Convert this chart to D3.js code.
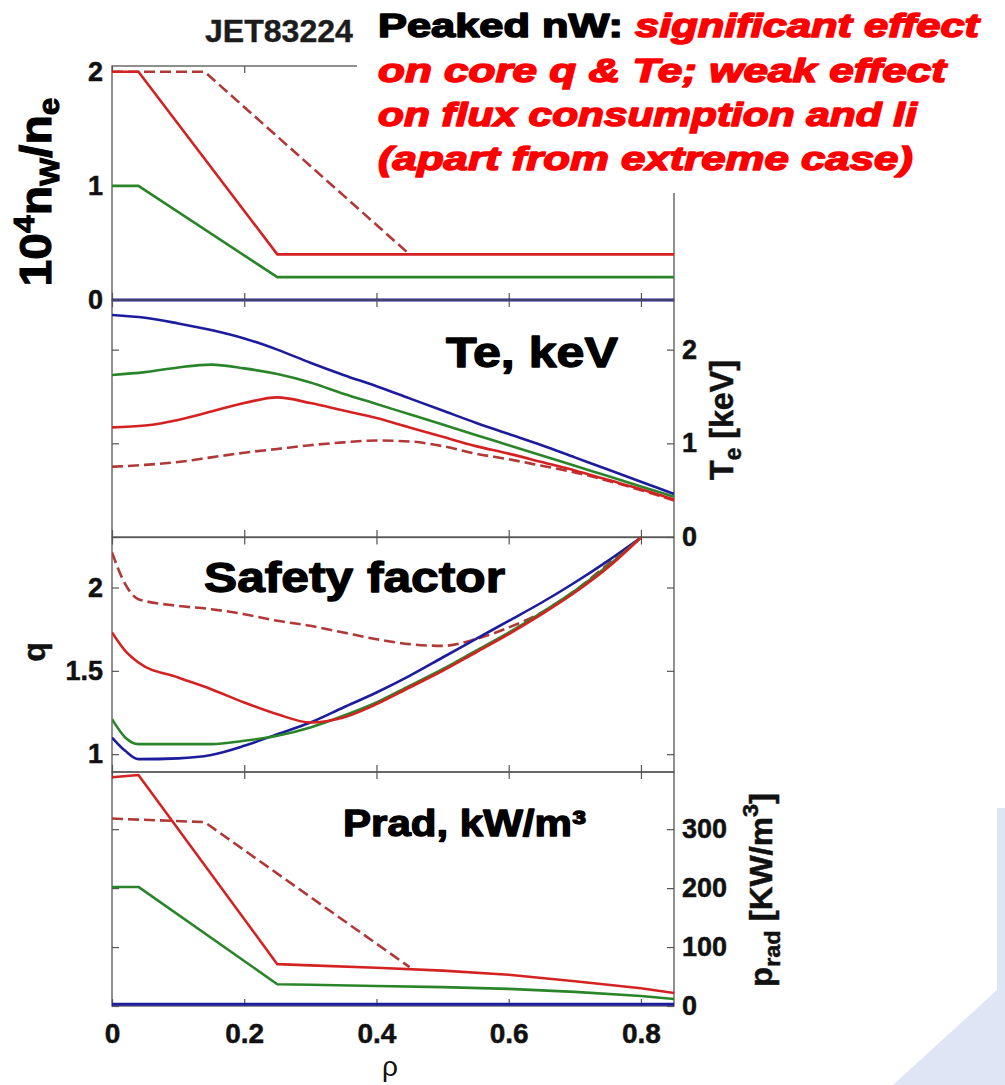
<!DOCTYPE html>
<html><head><meta charset="utf-8">
<script src="https://cdn.jsdelivr.net/npm/d3@7"></script>
<style>
body{margin:0;background:#fff}
svg{display:block}
text{font-family:"Liberation Sans",Arial,Helvetica,sans-serif}
</style></head>
<body><svg id="c" width="1005" height="1085"></svg>
<script>
// ---------------- DATA ----------------
const xTicks = [0, 0.2, 0.4, 0.6, 0.8];
const xTickLabels = ["0", "0.2", "0.4", "0.6", "0.8"];

// Panel 1: 10^4 nW/ne
const nwTicks = [0, 1, 2];
const nwTickLabels = ["0", "1", "2"];
const nwRho = [0, 0.04, 0.25, 0.85];
const nwBlue = [0, 0, 0, 0];
const nwGreen = [1, 1, 0.2, 0.2];
const nwRed = [2, 2, 0.4, 0.4];
const nwRedDashRho = [0, 0.14, 0.45];
const nwRedDash = [2, 2, 0.4];

// Panel 2: Te [keV]
const teTicks = [0, 1, 2];
const teTickLabels = ["0", "1", "2"];
const teRho = [0, 0.05, 0.1, 0.15, 0.2, 0.25, 0.3, 0.35, 0.4, 0.45, 0.5, 0.55, 0.6, 0.65, 0.7, 0.75, 0.8, 0.85];
const teBlue = [2.37, 2.34, 2.28, 2.21, 2.12, 2.00, 1.86, 1.73, 1.61, 1.48, 1.35, 1.22, 1.10, 0.98, 0.85, 0.72, 0.59, 0.46];
const teGreen = [1.73, 1.76, 1.81, 1.84, 1.80, 1.74, 1.65, 1.53, 1.42, 1.31, 1.20, 1.09, 0.98, 0.87, 0.76, 0.65, 0.54, 0.43];
const teRed = [1.17, 1.19, 1.25, 1.34, 1.43, 1.49, 1.43, 1.35, 1.27, 1.17, 1.07, 0.97, 0.89, 0.80, 0.71, 0.61, 0.51, 0.40];
const teRedDash = [0.75, 0.77, 0.80, 0.85, 0.90, 0.94, 0.98, 1.01, 1.03, 1.02, 0.97, 0.89, 0.83, 0.76, 0.69, 0.60, 0.50, 0.39];

// Panel 3: safety factor q
const qTicks = [1, 1.5, 2];
const qTickLabels = ["1", "1.5", "2"];
const qRho = [0, 0.02, 0.04, 0.1, 0.15, 0.2, 0.25, 0.3, 0.35, 0.4, 0.45, 0.5, 0.55, 0.6, 0.65, 0.7, 0.75, 0.8];
const qBlue = [1.10, 1.02, 0.97, 0.975, 0.995, 1.05, 1.12, 1.19, 1.28, 1.37, 1.47, 1.58, 1.69, 1.80, 1.91, 2.03, 2.16, 2.30];
const qGreen = [1.21, 1.10, 1.06, 1.06, 1.06, 1.08, 1.11, 1.16, 1.23, 1.31, 1.41, 1.51, 1.62, 1.73, 1.85, 1.98, 2.13, 2.30];
const qRed = [1.73, 1.62, 1.55, 1.46, 1.39, 1.31, 1.24, 1.19, 1.22, 1.30, 1.40, 1.50, 1.61, 1.72, 1.84, 1.97, 2.12, 2.30];
const qRedDash = [2.21, 2.02, 1.93, 1.89, 1.87, 1.84, 1.80, 1.77, 1.73, 1.69, 1.66, 1.65, 1.69, 1.76, 1.85, 1.98, 2.14, 2.30];

// Panel 4: Prad [kW/m3]
const pradTicks = [0, 100, 200, 300];
const pradTickLabels = ["0", "100", "200", "300"];
const pradRho = [0, 0.04, 0.25, 0.3, 0.4, 0.5, 0.6, 0.7, 0.8, 0.85];
const pradBlue = [3, 3, 3, 3, 3, 3, 3, 3, 3, 3];
const pradGreen = [202, 202, 37, 36, 34, 32, 29, 24, 17, 12];
const pradRed = [388, 392, 71, 69, 65, 60, 53, 42, 30, 22];
const pradRedDashRho = [0, 0.14, 0.45];
const pradRedDash = [318, 312, 66];

// Text
const titleLines = [
  [["Peaked nW: ", "n"], ["significant effect", "r"]],
  [["on core q & Te; weak effect", "r"]],
  [["on flux consumption and li", "r"]],
  [["(apart from extreme case)", "r"]]
];

// ---------------- DRAW ----------------
const svg = d3.select("#c");
const FONT = '"Liberation Sans",Arial,Helvetica,sans-serif';
const C = {blue: "#1c1c9c", green: "#2a852a", red: "#d42222", dash: "#b23838", frame: "#555"};

// slide background decoration (bottom right)
svg.append("polygon")
  .attr("points", "997,808 1005,808 1005,1085 893,1085 997,990")
  .attr("fill", "#dfe5f4");

const x = d3.scaleLinear().domain([0, 0.85]).range([112, 674]);

const panels = [
  {id: "nw", dom: [0, 2.05], top: 66, bottom: 300, ticks: nwTicks, labels: nwTickLabels, side: "left",
    series: [
      {rho: nwRedDashRho, v: nwRedDash, c: C.dash, dash: true},
      {rho: nwRho, v: nwGreen, c: C.green},
      {rho: nwRho, v: nwRed, c: C.red},
      {rho: nwRho, v: nwBlue, c: C.blue, w: 3.2}
    ]},
  {id: "te", dom: [0, 2.53], top: 300, bottom: 537, ticks: teTicks, labels: teTickLabels, side: "right", smooth: true,
    series: [
      {rho: teRho, v: teRedDash, c: C.dash, dash: true},
      {rho: teRho, v: teBlue, c: C.blue},
      {rho: teRho, v: teGreen, c: C.green},
      {rho: teRho, v: teRed, c: C.red}
    ]},
  {id: "q", dom: [0.893, 2.3], top: 537.5, bottom: 772, ticks: qTicks, labels: qTickLabels, side: "left", smooth: true,
    series: [
      {rho: qRho, v: qRedDash, c: C.dash, dash: true},
      {rho: qRho, v: qBlue, c: C.blue},
      {rho: qRho, v: qGreen, c: C.green},
      {rho: qRho, v: qRed, c: C.red}
    ]},
  {id: "prad", dom: [0, 397], top: 772, bottom: 1006, ticks: pradTicks, labels: pradTickLabels, side: "right", xlabels: true,
    series: [
      {rho: pradRedDashRho, v: pradRedDash, c: C.dash, dash: true},
      {rho: pradRho, v: pradGreen, c: C.green},
      {rho: pradRho, v: pradRed, c: C.red},
      {rho: pradRho, v: pradBlue, c: C.blue, w: 3.2}
    ]}
];

const defs = svg.append("defs");

function styleAxis(g, size) {
  g.select(".domain").remove();
  g.selectAll(".tick line").attr("stroke", C.frame).attr("stroke-width", 1.2);
  g.selectAll(".tick text").attr("font-family", FONT).attr("font-weight", "bold")
    .attr("font-size", size).attr("fill", "#111").attr("stroke", "#111").attr("stroke-width", 0.5);
}

panels.forEach(p => {
  const y = d3.scaleLinear().domain(p.dom).range([p.bottom, p.top]);
  p.y = y;
  // frame
  svg.append("rect").attr("x", x.range()[0]).attr("y", p.top)
    .attr("width", x.range()[1] - x.range()[0]).attr("height", p.bottom - p.top)
    .attr("fill", "none").attr("stroke", C.frame).attr("stroke-width", 1.3);

  // axes (inward ticks)
  const gb = svg.append("g").attr("transform", `translate(0,${p.bottom})`)
    .call(d3.axisBottom(x).tickValues(xTicks).tickSize(-7).tickSizeOuter(0).tickPadding(17)
      .tickFormat(p.xlabels ? (d, i) => xTickLabels[i] : ""));
  styleAxis(gb, 28);
  const gt = svg.append("g").attr("transform", `translate(0,${p.top})`)
    .call(d3.axisTop(x).tickValues(xTicks).tickSize(-7).tickSizeOuter(0).tickFormat(""));
  styleAxis(gt, 28);
  const gl = svg.append("g").attr("transform", `translate(${x.range()[0]},0)`)
    .call(d3.axisLeft(y).tickValues(p.ticks).tickSize(-7).tickSizeOuter(0).tickPadding(9)
      .tickFormat(p.side === "left" ? (d, i) => p.labels[i] : ""));
  styleAxis(gl, 27);
  const gr = svg.append("g").attr("transform", `translate(${x.range()[1]},0)`)
    .call(d3.axisRight(y).tickValues(p.ticks).tickSize(-7).tickSizeOuter(0).tickPadding(8)
      .tickFormat(p.side === "right" ? (d, i) => p.labels[i] : ""));
  styleAxis(gr, 27);

  // clip
  defs.append("clipPath").attr("id", "clip-" + p.id).append("rect")
    .attr("x", x.range()[0]).attr("y", p.top - 1)
    .attr("width", x.range()[1] - x.range()[0] + 1).attr("height", p.bottom - p.top + 4);

  const line = d3.line().x(d => x(d[0])).y(d => y(d[1]))
    .curve(p.smooth ? d3.curveMonotoneX : d3.curveLinear);
  const g = svg.append("g").attr("clip-path", `url(#clip-${p.id})`);
  p.series.forEach(s => {
    g.append("path").datum(s.rho.map((r, i) => [r, s.v[i]]))
      .attr("d", line).attr("fill", "none").attr("stroke", s.c)
      .attr("stroke-width", s.w || 2.6)
      .attr("stroke-dasharray", s.dash ? "11,5" : null)
      .attr("stroke-linejoin", "round");
  });
});

// white box behind the headline text
svg.append("rect").attr("x", 357).attr("y", 0).attr("width", 648).attr("height", 193).attr("fill", "#fff");

// fit helper: scale text horizontally to target width
function fitH(t, tx, ty, target, rot) {
  const w = t.node().getComputedTextLength();
  const s = target / w;
  t.attr("transform", `translate(${tx},${ty})` + (rot ? ` rotate(${rot})` : "") + ` scale(${s},1)`);
}

// headline
const tBase = [37, 82, 126, 170];
const tWidth = [601, 568, 539, 535];
titleLines.forEach((ln, i) => {
  const t = svg.append("text").attr("x", 0).attr("y", 0)
    .attr("font-family", FONT).attr("font-weight", "bold").attr("font-size", 34);
  ln.forEach(([s, k]) => {
    t.append("tspan").text(s)
      .attr("fill", k === "r" ? "#ff0000" : "#000")
      .attr("stroke", k === "r" ? "#ff0000" : "#000").attr("stroke-width", 1.6)
      .attr("stroke-linejoin", "round")
      .attr("font-style", k === "r" ? "italic" : "normal");
  });
  fitH(t, 378, tBase[i], tWidth[i]);
});

// JET label
const jet = svg.append("text").text("JET83224").attr("font-family", FONT).attr("font-weight", "bold")
  .attr("font-size", 31).attr("fill", "#1c1c1c").attr("stroke", "#1c1c1c").attr("stroke-width", 0.4);
fitH(jet, 205, 42, 148);

// panel annotations
[["Te, keV", 446, 367, 172, 42], ["Safety factor", 204, 592, 301, 42], ["Prad, kW/m\u00b3", 343, 836, 243, 36]]
  .forEach(([s, tx, ty, w, fs]) => {
    const t = svg.append("text").text(s).attr("font-family", FONT).attr("font-weight", "bold")
      .attr("font-size", fs).attr("fill", "#000").attr("stroke", "#000").attr("stroke-width", 1.3)
      .attr("stroke-linejoin", "round");
    fitH(t, tx, ty, w);
  });

// left label 10^4 nW/ne
{
  const t = svg.append("text").attr("font-family", FONT).attr("font-weight", "bold")
    .attr("font-size", 44).attr("fill", "#000").attr("stroke", "#000").attr("stroke-width", 1)
    .attr("text-anchor", "middle");
  t.append("tspan").text("10");
  t.append("tspan").text("4").attr("font-size", 29).attr("dy", -17);
  t.append("tspan").text("n").attr("dy", 17);
  t.append("tspan").text("W").attr("font-size", 27).attr("dy", 8);
  t.append("tspan").text("/n").attr("dy", -8);
  t.append("tspan").text("e").attr("font-size", 29).attr("dy", 8);
  fitH(t, 51, 192, 189, -90);
}
// q label
{
  const t = svg.append("text").text("q").attr("font-family", FONT).attr("font-weight", "bold")
    .attr("font-size", 32).attr("fill", "#111").attr("stroke", "#111").attr("stroke-width", 0.5)
    .attr("text-anchor", "middle");
  t.attr("transform", "translate(45,652) rotate(-90)");
}
// Te label
{
  const t = svg.append("text").attr("font-family", FONT).attr("font-weight", "bold")
    .attr("font-size", 33).attr("fill", "#111").attr("stroke", "#111").attr("stroke-width", 0.5)
    .attr("text-anchor", "middle");
  t.append("tspan").text("T");
  t.append("tspan").text("e").attr("font-size", 23).attr("dy", 8);
  t.append("tspan").text(" [keV]").attr("dy", -8);
  fitH(t, 733, 420, 120, -90);
}
// Prad label
{
  const t = svg.append("text").attr("font-family", FONT).attr("font-weight", "bold")
    .attr("font-size", 31).attr("fill", "#111").attr("stroke", "#111").attr("stroke-width", 0.5)
    .attr("text-anchor", "middle");
  t.append("tspan").text("p");
  t.append("tspan").text("rad").attr("font-size", 22).attr("dy", 8);
  t.append("tspan").text(" [KW/m").attr("dy", -8);
  t.append("tspan").text("3").attr("font-size", 22).attr("dy", -14);
  t.append("tspan").text("]").attr("dy", 14);
  fitH(t, 772, 890, 194, -90);
}
// rho label
svg.append("text").text("\u03c1").attr("x", 390).attr("y", 1076)
  .attr("font-family", FONT).attr("font-size", 28).attr("fill", "#111").attr("text-anchor", "middle");
</script>
</body></html>
